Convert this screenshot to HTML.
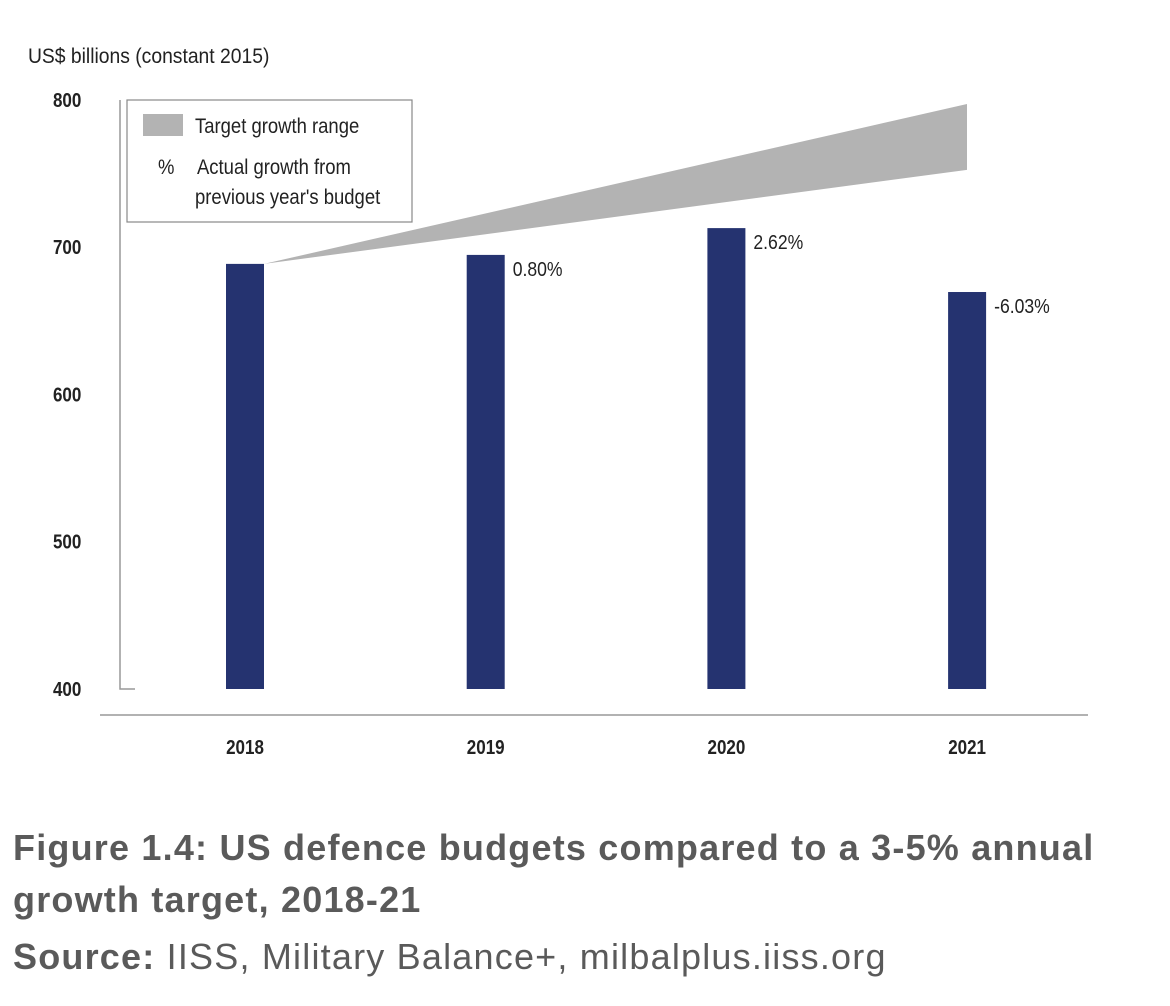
<!DOCTYPE html>
<html><head><meta charset="utf-8"><style>
body{margin:0;background:#fff;width:1170px;height:1006px;overflow:hidden;font-family:"Liberation Sans",sans-serif}
.cap{position:absolute;left:13px;color:#5a5a5a;font-size:36px;letter-spacing:1.2px;white-space:nowrap}
</style></head><body>
<svg id="chart" width="1170" height="800" style="position:absolute;left:0;top:0" font-family="Liberation Sans, sans-serif"></svg>
<div class="cap" style="top:822px;font-weight:bold;line-height:52px">Figure 1.4: US defence budgets compared to a 3-5% annual<br>growth target, 2018-21</div>
<div class="cap" style="top:936px"><b>Source:</b> IISS, Military Balance+, milbalplus.iiss.org</div>
<script>
const years=["2018","2019","2020","2021"];
const budgets=[688.7,694.8,713,669.6];
const growthLabels=["","0.80%","2.62%","-6.03%"];
const yTicks=[400,500,600,700,800];
const lowRate=0.03, highRate=0.05;
const NS="http://www.w3.org/2000/svg";
const svg=document.getElementById('chart');
const y=v=>689-(v-400)*1.4725;
const xc=i=>245+i*240.7;
const bw=38;
function el(t,a,txt){const e=document.createElementNS(NS,t);for(const k in a)e.setAttribute(k,a[k]);if(txt!==undefined)e.textContent=txt;svg.appendChild(e);return e;}
let e;
e=el('text',{x:28,y:63,'font-size':21,fill:'#222',transform:'translate(28,0) scale(0.92,1) translate(-28,0)'},'US$ billions (constant 2015)');

e=el('path',{d:`M120 ${y(800)} V689 H135`,stroke:'#999','stroke-width':1.5,fill:'none'});

e=el('line',{x1:100,y1:715,x2:1088,y2:715,stroke:'#999','stroke-width':1.5});

yTicks.forEach(v=>{
 e=el('text',{x:53,y:y(v)+7,'font-size':20,'font-weight':'bold',fill:'#222','text-anchor':'start',transform:`translate(53,0) scale(0.85,1) translate(-53,0)`},v);
 
});
const base=budgets[0];
const x0=xc(0)+bw/2, x1=967;
const hi=base*Math.pow(1+highRate,3), lo=base*Math.pow(1+lowRate,3);
e=el('polygon',{points:`${x0},${y(base)} ${x1},${y(hi)} ${x1},${y(lo)}`,fill:'#b3b3b3'});

years.forEach((yr,i)=>{
 e=el('rect',{x:xc(i)-bw/2,y:y(budgets[i]),width:bw,height:689-y(budgets[i]),fill:'#253370'});
 
 e=el('text',{x:xc(i),y:754,'font-size':20,'font-weight':'bold',fill:'#222','text-anchor':'middle',transform:`translate(${xc(i)},0) scale(0.85,1) translate(${-xc(i)},0)`},yr);
 
 if(growthLabels[i]){
  const lx=xc(i)+bw/2+8;
  e=el('text',{x:lx,y:y(budgets[i])+21,'font-size':20,fill:'#222',transform:`translate(${lx},0) scale(0.88,1) translate(${-lx},0)`},growthLabels[i]);
  
 }
});
e=el('rect',{x:127,y:100,width:285,height:122,fill:'#fff',stroke:'#888','stroke-width':1.2});

e=el('rect',{x:143,y:114,width:40,height:22,fill:'#b3b3b3'});

[[195,133,'Target growth range'],[158,174,'%'],[197,174,'Actual growth from'],[195,204,"previous year's budget"]].forEach(([lx,ly,t])=>{
 e=el('text',{x:lx,y:ly,'font-size':21,fill:'#222',transform:`translate(${lx},0) scale(0.88,1) translate(${-lx},0)`},t);
 
});
</script>
</body></html>
